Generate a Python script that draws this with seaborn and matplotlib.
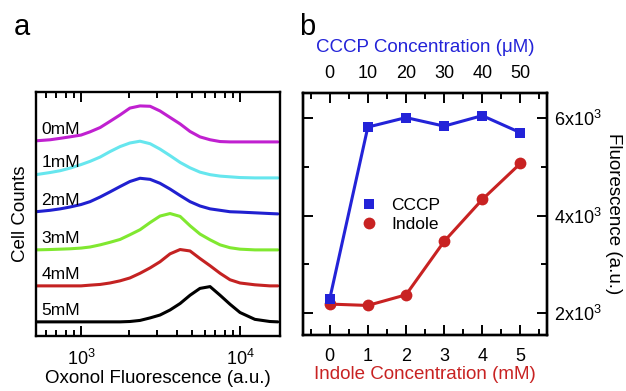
import numpy as np
import pandas as pd
import matplotlib
matplotlib.use("Agg")
import matplotlib.pyplot as plt
from matplotlib.lines import Line2D
from matplotlib.ticker import LogLocator, FixedLocator, MultipleLocator, NullFormatter
import seaborn as sns

sns.set_style("ticks")
plt.rcParams['font.family'] = ['Liberation Sans', 'DejaVu Sans']
plt.rcParams['mathtext.fontset'] = 'custom'
plt.rcParams['mathtext.rm'] = 'Liberation Sans'
plt.rcParams['mathtext.it'] = 'Liberation Sans:italic'
for k in ['text.color', 'axes.labelcolor', 'xtick.color', 'ytick.color', 'axes.edgecolor']:
    plt.rcParams[k] = 'black'

# ---------------- Panel a data ----------------
fluor = [520, 640, 740, 850, 1000, 1140, 1320, 1520, 1760, 2030, 2350, 2720,
         3140, 3630, 4200, 4850, 5600, 6480, 7490, 8650, 10000, 12400, 15400, 17300]
h_0mM = [0.03, 0.06, 0.10, 0.14, 0.19, 0.28, 0.40, 0.57, 0.75, 0.94, 1.00, 0.99,
         0.86, 0.68, 0.50, 0.29, 0.14, 0.06, 0.01, 0.0, 0.0, 0.0, 0.0, 0.0]
h_1mM = [0.09, 0.15, 0.20, 0.27, 0.37, 0.46, 0.58, 0.73, 0.87, 0.97, 1.02, 0.95,
         0.80, 0.62, 0.43, 0.28, 0.16, 0.09, 0.05, 0.03, 0.01, 0.0, 0.0, 0.0]
h_2mM = [0.06, 0.10, 0.14, 0.19, 0.26, 0.34, 0.47, 0.61, 0.76, 0.90, 0.99, 0.96,
         0.85, 0.69, 0.51, 0.34, 0.22, 0.14, 0.10, 0.06, 0.05, 0.03, 0.01, 0.0]
h_3mM = [0.0, 0.01, 0.02, 0.03, 0.05, 0.08, 0.14, 0.21, 0.29, 0.42, 0.56, 0.76,
         0.94, 1.01, 0.93, 0.67, 0.44, 0.28, 0.14, 0.06, 0.02, 0.0, 0.0, 0.0]
h_4mM = [0.0, 0.0, 0.0, 0.0, 0.0, 0.02, 0.04, 0.08, 0.14, 0.22, 0.35, 0.50,
         0.67, 0.89, 1.01, 0.97, 0.76, 0.56, 0.35, 0.17, 0.08, 0.03, 0.0, 0.0]
h_5mM = [0.0, 0.0, 0.0, 0.0, 0.0, 0.0, 0.0, 0.0, 0.0, 0.01, 0.04, 0.11,
         0.19, 0.33, 0.51, 0.74, 0.93, 0.98, 0.74, 0.49, 0.26, 0.07, 0.01, 0.0]
hist_labels = ["0mM", "1mM", "2mM", "3mM", "4mM", "5mM"]
hist_colors = ["#c020d0", "#66e6ee", "#2020d0", "#80e830", "#c42222", "#000000"]

# ---------------- Panel b data ----------------
indole_conc = [0, 1, 2, 3, 4, 5]
indole_fluo = [2185, 2157, 2375, 3470, 4330, 5070]
cccp_conc = [0, 10, 20, 30, 40, 50]
cccp_fluo = [2287, 5815, 6010, 5835, 6050, 5700]
blue = "#2323d8"
red = "#c82222"

fig = plt.figure(figsize=(6.26, 3.91), dpi=100)
axa = fig.add_axes([0.0575, 0.140, 0.3895, 0.625])
axb = fig.add_axes([0.484, 0.143, 0.390, 0.619])

TICK_FS = 13
LAB_FS = 13.5

# ---------- Panel a ----------
curves = [h_0mM, h_1mM, h_2mM, h_3mM, h_4mM, h_5mM]
n = len(curves)
rows = []
for i, (lab, h) in enumerate(zip(hist_labels, curves)):
    off = n - 1 - i
    for f, v in zip(fluor, h):
        rows.append({"F": f, "y": off + v, "label": lab})
df = pd.DataFrame(rows)
sns.lineplot(data=df, x="F", y="y", hue="label", palette=hist_colors,
             estimator=None, sort=False, lw=2.2, ax=axa, legend=False)
axa.set_xscale("log")
axa.set_xlim(521, 17800)
axa.set_ylim(-0.40, 6.39)
for i, (lab, h) in enumerate(zip(hist_labels, curves)):
    off = n - 1 - i
    axa.text(565, off + h[0] + 0.2, lab, fontsize=12.5, ha="left", va="baseline")
axa.xaxis.set_major_locator(FixedLocator([1e3, 1e4]))
axa.xaxis.set_minor_locator(LogLocator(base=10, subs=np.arange(2, 10)))
axa.xaxis.set_minor_formatter(NullFormatter())
axa.set_xticklabels([r"$10^3$", r"$10^4$"])
axa.set_yticks([])
axa.tick_params(axis="x", which="both", direction="in", top=True, bottom=True,
                labelsize=TICK_FS, width=1.4, pad=9)
axa.tick_params(axis="x", which="major", length=7)
axa.tick_params(axis="x", which="minor", length=4)
axa.set_xlabel("Oxonol Fluorescence (a.u.)", fontsize=LAB_FS, labelpad=1)
axa.set_ylabel("Cell Counts", fontsize=LAB_FS, labelpad=5)
for s in axa.spines.values():
    s.set_linewidth(1.7)

# ---------- Panel b ----------
sns.lineplot(x=indole_conc, y=indole_fluo, ax=axb, color=red, lw=2.2,
             marker="o", markersize=8.5, markeredgewidth=0, markeredgecolor=red)
axb.set_xlim(-0.7, 5.7)
axb.set_ylim(1549, 6513)
axt = axb.twiny()
sns.lineplot(x=cccp_conc, y=cccp_fluo, ax=axt, color=blue, lw=2.2,
             marker="s", markersize=7.5, markeredgewidth=0, markeredgecolor=blue)
axt.set_xlim(-7, 57)
axt.set_ylim(1549, 6513)

axb.xaxis.set_major_locator(MultipleLocator(1))
axb.xaxis.set_minor_locator(MultipleLocator(0.5))
axt.xaxis.set_major_locator(MultipleLocator(10))
axt.xaxis.set_minor_locator(MultipleLocator(5))
axb.yaxis.set_major_locator(FixedLocator([2000, 4000, 6000]))
axb.yaxis.set_minor_locator(FixedLocator([3000, 5000]))
axb.set_yticklabels([r"2x10$^3$", r"4x10$^3$", r"6x10$^3$"])
axb.tick_params(axis="both", which="both", direction="in", width=1.4,
                labelsize=TICK_FS, left=True, right=True, bottom=True, top=False,
                labelleft=False, labelright=True)
axb.tick_params(axis="x", pad=9)
axb.tick_params(axis="y", pad=5)
axb.tick_params(which="major", length=7)
axb.tick_params(which="minor", length=4)
axt.tick_params(axis="x", which="both", direction="in", width=1.4,
                labelsize=TICK_FS, top=True, bottom=False, pad=8)
axt.tick_params(which="major", length=7)
axt.tick_params(which="minor", length=4)

axb.set_xlabel("Indole Concentration (mM)", fontsize=LAB_FS, color=red, labelpad=1)
axt.set_xlabel("CCCP Concentration (\u03bcM)", fontsize=LAB_FS, color=blue, labelpad=9)
axb.yaxis.set_label_position("right")
axb.set_ylabel("Fluorescence (a.u.)", fontsize=LAB_FS, rotation=270, labelpad=2,
               va="bottom")
axt.set_ylabel("")
for s in list(axb.spines.values()) + list(axt.spines.values()):
    s.set_linewidth(1.7)

handles = [Line2D([], [], ls="none", marker="s", color=blue, markersize=7.5, markeredgewidth=0),
           Line2D([], [], ls="none", marker="o", color=red, markersize=8.5, markeredgewidth=0)]
axb.legend(handles, ["CCCP", "Indole"], loc="upper left", bbox_to_anchor=(0.17, 0.63),
           frameon=False, fontsize=12.5, handlelength=1.0, handletextpad=0.8,
           labelspacing=0.2)

fig.text(0.022, 0.91, "a", fontsize=21)
fig.text(0.478, 0.91, "b", fontsize=21)

fig.savefig("out.png", dpi=100)
